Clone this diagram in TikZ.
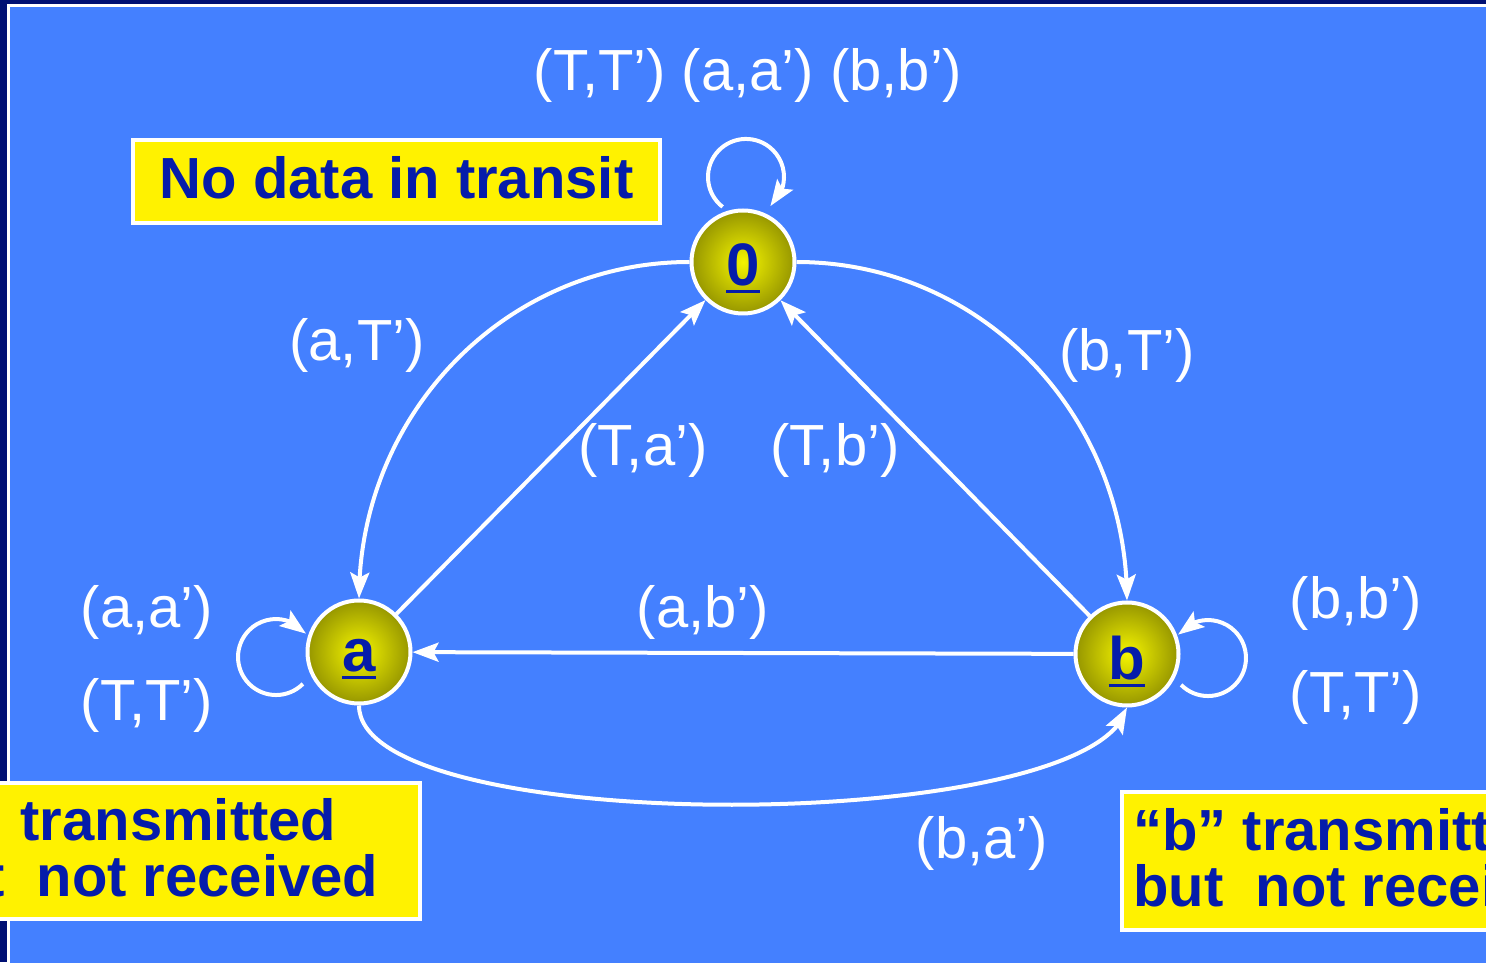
\documentclass[tikz,border=0pt]{standalone}
\usepackage{fontspec}
\setmainfont{Liberation Sans}
\usetikzlibrary{arrows.meta,bending}
\definecolor{navyframe}{RGB}{0,16,115}
\definecolor{bgblue}{RGB}{68,128,255}
\definecolor{textblue}{RGB}{5,28,170}
\definecolor{nodein}{RGB}{245,245,0}
\definecolor{nodeout}{RGB}{150,150,0}
\newcommand{\ulabel}[1]{\setbox0=\hbox{#1}\rlap{\rule[-7pt]{\wd0}{3pt}}\box0}
\begin{document}
\begin{tikzpicture}[x=1pt,y=1pt,
  state/.style={circle, draw=white, line width=4pt, inner sep=0pt, minimum size=103pt,
    inner color=nodein, outer color=nodeout, text=textblue,
    font=\fontsize{60}{60}\selectfont\bfseries},
  lbl/.style={text=white, font=\fontsize{58}{60}\selectfont, inner sep=0pt},
  conn/.style={draw=white, line width=4pt, -{Stealth[length=26pt,width=19pt,inset=5pt,flex]}},
  ybox/.style={draw=white, line width=4pt, fill=yellow},
  btext/.style={text=textblue, font=\fontsize{58}{60}\selectfont\bfseries, inner sep=0pt}]
\useasboundingbox (0,0) rectangle (1486,962);
\clip (0,0) rectangle (1486,962);
% frame
\fill[navyframe] (0,0) rectangle (1486,962);
\draw[white, line width=3pt, fill=bgblue] (8.5,-20) rectangle (1520,956.5);
% yellow boxes
\node[ybox, minimum width=527pt, minimum height=83pt, inner sep=0pt, text=textblue,
  font=\fontsize{58}{60}\selectfont\bfseries, text height=40pt, text depth=5pt]
  (nodata) at (396.5,780.5) {No data in transit};
\draw[ybox] (-200,43) rectangle (420,179.5);
\node[btext, anchor=base west] (la1) at (-86,122) {“a” transmitted};
\node[btext, anchor=base west] (la2) at (-86,66) {but\ \ not received};
\draw[ybox] (1121.5,32.5) rectangle (1700,170);
\node[btext, anchor=base west] (lb1) at (1133,112) {“b” transmitted};
\node[btext, anchor=base west] (lb2) at (1133,56) {but\ \ not received};
% states
\node[state, text height=49pt, text depth=1pt] (n0) at (743,700) {\ulabel{0}};
\node[state, text height=41pt, text depth=1pt] (a) at (359,310) {\ulabel{a}};
\node[state, text height=53pt, text depth=1pt] (b) at (1127,308) {\ulabel{b}};
% transitions
\draw[conn] (n0.west) to[out=180,in=90] (a.north);
\draw[conn] (n0.east) to[out=0,in=90] (b.north);
\draw[conn] (a) -- (n0);
\draw[conn] (b) -- (n0);
\draw[conn] (b) -- (a);
\draw[conn] (a.south) .. controls +(0,-133) and +(-32,-129) .. (b.south);
% self loops
\draw[conn] ([shift={(-20.4,55.1)}]n0.center) arc[start angle=232, end angle=-50, radius=38];
\draw[conn] ([shift={(-56.1,-31.9)}]a.center) arc[start angle=-45, end angle=-322, radius=38];
\draw[conn] ([shift={(54.1,-30.9)}]b.center) arc[start angle=225, end angle=502, radius=38];
% labels
\node[lbl] (lt) at (748,887) {(T,T’) (a,a’) (b,b’)};
\node[lbl] (laT) at (357,617) {(a,T’)};
\node[lbl] (lTa) at (643,512) {(T,a’)};
\node[lbl] (lTb) at (835,512) {(T,b’)};
\node[lbl] (lbT) at (1127,607) {(b,T’)};
\node[lbl] (lab) at (703,350) {(a,b’)};
\node[lbl] (lba) at (982,119) {(b,a’)};
\node[lbl] (laa) at (147,350) {(a,a’)};
\node[lbl] (lTTa) at (147,257) {(T,T’)};
\node[lbl] (lbb) at (1356,359) {(b,b’)};
\node[lbl] (lTTb) at (1356,265) {(T,T’)};
\end{tikzpicture}
\end{document}
